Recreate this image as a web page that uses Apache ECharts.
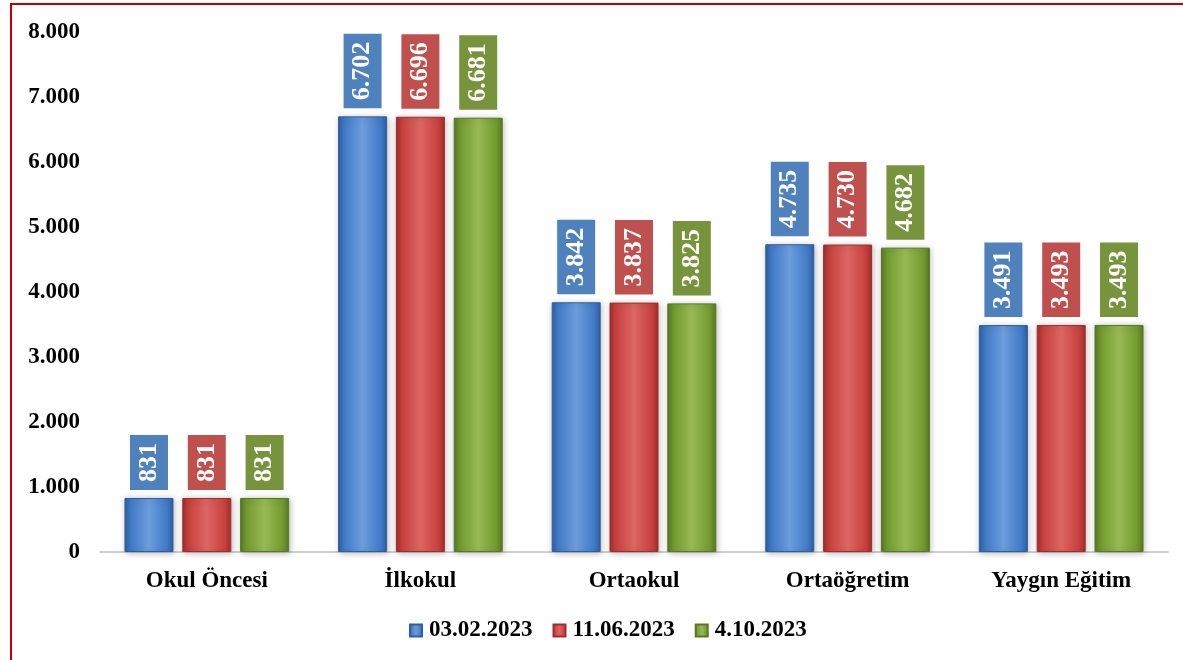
<!DOCTYPE html>
<html><head><meta charset="utf-8">
<script src="https://cdn.jsdelivr.net/npm/echarts@6/dist/echarts.min.js"></script>
<style>html,body{margin:0;padding:0;background:#fff}#c{width:1183px;height:660px}</style>
</head><body><div id="c"></div>
<script>
const categories = ['Okul Öncesi', 'İlkokul', 'Ortaokul', 'Ortaöğretim', 'Yaygın Eğitim'];
const seriesNames = ['03.02.2023', '11.06.2023', '4.10.2023'];
const s1 = [831, 6702, 3842, 4735, 3491];
const s2 = [831, 6696, 3837, 4730, 3493];
const s3 = [831, 6681, 3825, 4682, 3493];
const yTicks = [0, 1000, 2000, 3000, 4000, 5000, 6000, 7000, 8000];

const font = 'Liberation Serif';
const barCols = [
  ['#4079C6', '#6C9DDD', '#4079C6', '#2F5E9E'],
  ['#C6403D', '#DD6663', '#C6403D', '#9E2E2C'],
  ['#71992F', '#98BA55', '#71992F', '#587824']
];
const labelBg = ['#4F81BD', '#C0504D', '#77933C'];
function fmt(v){ return String(v).replace(/\B(?=(\d{3})+(?!\d))/g, '.'); }
function mk(name, data, i){
  const c = barCols[i];
  return {
    name, type:'bar', data, barWidth:49, barGap:'18%',
    itemStyle:{
      color:new echarts.graphic.LinearGradient(0,0,1,0,[
        {offset:0,color:c[3]},{offset:0.12,color:c[0]},{offset:0.5,color:c[1]},{offset:0.88,color:c[0]},{offset:1,color:c[3]}]),
      borderColor:c[3], borderWidth:1,
      shadowColor:'rgba(0,0,0,0.25)', shadowBlur:6, shadowOffsetX:1, shadowOffsetY:1
    },
    label:{
      show:true, position:'top', rotate:90, distance:8,
      formatter:p=>fmt(p.value),
      color:'#fff', fontFamily:font, fontWeight:'bold', fontSize:26, lineHeight:28,
      backgroundColor:labelBg[i], padding:[5,8,5,8], align:'left', verticalAlign:'middle'
    }
  };
}
const chart = echarts.init(document.getElementById('c'));
chart.setOption({
  animation:false,
  backgroundColor:'#fff',
  graphic:[{type:'rect', shape:{x:11,y:4,width:1200,height:700}, style:{fill:'none', stroke:'#C00000', lineWidth:2}}],
  legend:{
    data:seriesNames, bottom:13, left:404, itemWidth:12, itemHeight:12, itemGap:20, icon:'rect',
    textStyle:{fontFamily:font, fontWeight:'bold', fontSize:23, color:'#000', padding:[0,0,0,2]}
  },
  grid:{left:100, right:15, top:32, bottom:108},
  xAxis:{
    type:'category', data:categories,
    axisLine:{lineStyle:{color:'#D0D0D0', width:2}}, axisTick:{show:false},
    axisLabel:{fontFamily:font, fontWeight:'bold', fontSize:23, color:'#000', margin:18}
  },
  yAxis:{
    type:'value', min:0, max:8000, interval:1000,
    axisLine:{show:false}, axisTick:{show:false}, splitLine:{show:false},
    axisLabel:{fontFamily:font, fontWeight:'bold', fontSize:23, color:'#000', margin:20,
      formatter:v=>yTicks.includes(v)?fmt(v):''}
  },
  series:[mk(seriesNames[0], s1, 0), mk(seriesNames[1], s2, 1), mk(seriesNames[2], s3, 2)]
});
</script></body></html>
